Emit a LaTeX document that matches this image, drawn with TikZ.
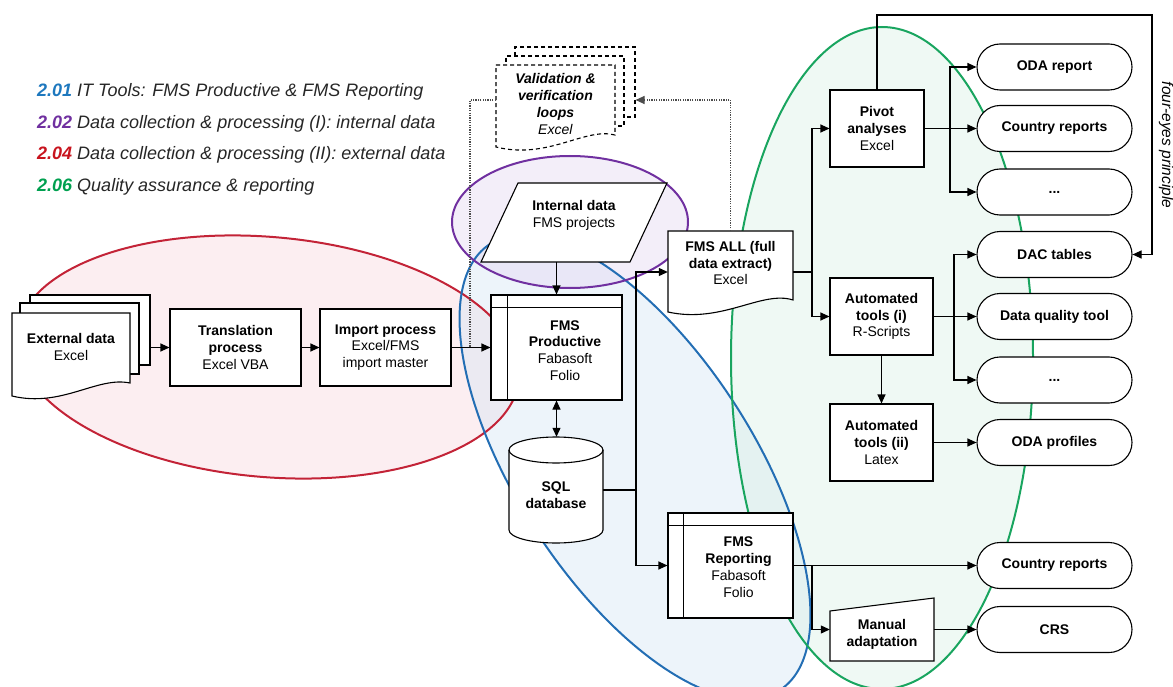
\documentclass[tikz,border=0pt]{standalone}
\usepackage{fontspec}
\setmainfont{Liberation Sans}
\usetikzlibrary{arrows.meta,shapes.misc}
\definecolor{redline}{RGB}{195,35,55}
\definecolor{purpleline}{RGB}{112,48,160}
\definecolor{blueline}{RGB}{35,110,180}
\definecolor{greenline}{RGB}{25,165,95}
\definecolor{redfill}{RGB}{248,218,224}
\definecolor{purplefill}{RGB}{228,217,242}
\definecolor{bluefill}{RGB}{214,230,245}
\definecolor{greenfill}{RGB}{220,242,230}
\definecolor{lgA}{RGB}{30,120,190}
\definecolor{lgB}{RGB}{112,48,160}
\definecolor{lgC}{RGB}{200,20,30}
\definecolor{lgD}{RGB}{0,160,80}
\newcommand\nf{\fontsize{14}{16.8}\selectfont}
\newcommand\lgf{\fontsize{18}{20}\selectfont}
\tikzset{
  box/.style={draw, fill=white, line width=1.1pt, align=center, font=\nf, inner sep=1pt},
  ghost/.style={inner sep=0pt, align=center, font=\nf},
  term/.style={draw, fill=white, line width=1.1pt, rounded rectangle, minimum width=157pt, minimum height=46pt, font=\nf\bfseries, inner sep=1pt},
  outline/.style={draw, fill=white, line width=1.1pt},
  conn/.style={line width=1.1pt},
  tip/.style={-{Triangle[length=9pt,width=8pt]}},
  arr/.style={line width=1.1pt, tip},
  dotline/.style={line width=1.1pt, black!70, dash pattern=on 1.2pt off 1.2pt},
  dashline/.style={line width=1.1pt, dash pattern=on 4pt off 3pt},
  ell/.style={line width=2pt},
  legend/.style={anchor=west, font=\lgf\itshape, inner sep=0pt, text=black!85},
}
\begin{document}
\begin{tikzpicture}[x=1pt,y=-1pt]
\useasboundingbox (0,0) rectangle (1173,687);
% ellipse fills
\fill[redfill, fill opacity=.45, rotate around={-5:(268,357)}] (268,357) ellipse [x radius=252pt, y radius=120pt];
\fill[bluefill, fill opacity=.45, rotate around={-57:(635,467)}] (635,467) ellipse [x radius=266pt, y radius=118pt];
\fill[greenfill, fill opacity=.45] (882,358) ellipse [x radius=151pt, y radius=331pt];
\fill[purplefill, fill opacity=.45] (570,222) ellipse [x radius=118pt, y radius=66pt];
% ellipse strokes
\draw[ell, redline, rotate around={-5:(268,357)}] (268,357) ellipse [x radius=252pt, y radius=120pt];
\draw[ell, blueline, rotate around={-57:(635,467)}] (635,467) ellipse [x radius=266pt, y radius=118pt];
\draw[ell, greenline] (882,358) ellipse [x radius=151pt, y radius=331pt];
\draw[ell, purpleline] (570,222) ellipse [x radius=118pt, y radius=66pt];

% legend
\node[legend] (lg1) at (37,92) {\textbf{\color{lgA}2.01} IT Tools: FMS Productive \& FMS Reporting};
\node[legend] (lg2) at (37,123.5) {\textbf{\color{lgB}2.02} Data collection \& processing (I): internal data};
\node[legend] (lg3) at (37,155) {\textbf{\color{lgC}2.04} Data collection \& processing (II): external data};
\node[legend] (lg4) at (37,186.5) {\textbf{\color{lgD}2.06} Quality assurance \& reporting};

% external data stack
\node[outline, minimum width=120pt, minimum height=70pt] (ext3) at (90,330) {};
\node[outline, minimum width=119pt, minimum height=71pt] (ext2) at (79.5,338.5) {};
\draw[outline] (12,313) -- (130,313) -- (130,383) .. controls (97,376) and (62,408) .. (12,396) -- cycle;
\node[ghost] (ext) at (71,347) {\textbf{External data}\\Excel};

\node[box, minimum width=131pt, minimum height=77pt] (trans) at (235.5,347.5) {\textbf{Translation}\\\textbf{process}\\Excel VBA};
\node[box, minimum width=131pt, minimum height=77pt] (imp) at (385.5,347.5) {\textbf{Import process}\\Excel/FMS\\import master};

% validation doc
\node[outline, dashline, minimum width=120pt, minimum height=70pt] (vb3) at (575,82) {};
\node[outline, dashline, minimum width=118pt, minimum height=70pt] (vb2) at (565,91) {};
\draw[outline, dashline] (496,65) -- (615,65) -- (615,135) .. controls (585,127) and (548,160) .. (496,147) -- cycle;
\node[ghost, minimum width=119pt, minimum height=70pt, label={[ghost, yshift=-4pt]center:{\textbf{\textit{Validation \&}}\\\textbf{\textit{verification}}\\\textbf{\textit{loops}}\\\textit{Excel}}}] (valid) at (555.5,100) {};

% internal data
\draw[outline] (518,183) -- (667,183) -- (630,262) -- (481,262) -- cycle;
\node[ghost, minimum width=149pt, minimum height=79pt, label={[ghost, yshift=7pt]center:{\textbf{Internal data}\\FMS projects}}] (intd) at (574,222.5) {};

% FMS productive
\node[box, minimum width=131pt, minimum height=105pt, label={[ghost, xshift=8.5pt, yshift=-3pt]center:{\textbf{FMS}\\\textbf{Productive}\\Fabasoft\\Folio}}] (prod) at (556.5,347.5) {};
\draw[conn] ([yshift=-13pt]prod.north west) -- ([yshift=-13pt]prod.north east);
\draw[conn] ([xshift=17pt]prod.north west) -- ([xshift=17pt]prod.south west);

% SQL cylinder
\draw[outline] (509,450) -- (509,530) arc[start angle=180, end angle=360, x radius=47pt, y radius=13pt] -- (603,450) arc[start angle=0, end angle=180, x radius=47pt, y radius=13pt] -- cycle;
\draw[conn] (509,450) arc[start angle=180, end angle=360, x radius=47pt, y radius=13pt];
\node[ghost, minimum width=94pt, minimum height=106pt, label={[ghost, yshift=-5pt]center:{\textbf{SQL}\\\textbf{database}}}] (sql) at (556,490) {};

% FMS ALL
\draw[outline] (668,231) -- (793,231) -- (793,300) .. controls (762,290) and (722,324) .. (668,312) -- cycle;
\node[ghost, minimum width=125pt, minimum height=82pt, label={[ghost, yshift=9pt]center:{\textbf{FMS ALL (full}\\\textbf{data extract)}\\Excel}}] (fmsall) at (730.5,272) {};

% FMS Reporting
\node[box, minimum width=125pt, minimum height=105pt, label={[ghost, xshift=8pt, yshift=-1.5pt]center:{\textbf{FMS}\\\textbf{Reporting}\\Fabasoft\\Folio}}] (rep) at (730.5,565.5) {};
\draw[conn] ([yshift=-13pt]rep.north west) -- ([yshift=-13pt]rep.north east);
\draw[conn] ([xshift=16pt]rep.north west) -- ([xshift=16pt]rep.south west);

% right boxes
\node[box, minimum width=94pt, minimum height=77pt] (piv) at (877,128.5) {\textbf{Pivot}\\\textbf{analyses}\\Excel};
\node[box, minimum width=103pt, minimum height=77pt] (auto1) at (881.5,316.5) {\textbf{Automated}\\\textbf{tools (i)}\\R-Scripts};
\node[box, minimum width=103pt, minimum height=77pt] (auto2) at (881.5,442.5) {\textbf{Automated}\\\textbf{tools (ii)}\\Latex};
\draw[outline] (830,611) -- (934,598) -- (934,661) -- (830,661) -- cycle;
\node[ghost, minimum width=104pt, minimum height=63pt, label={[ghost, yshift=-5pt]center:{\textbf{Manual}\\\textbf{adaptation}}}] (man) at (882,629.5) {};

% terminators
\node[term] (oda) at (1054.5,67) {ODA report};
\node[term] (cr1) at (1054.5,128.5) {Country reports};
\node[term] (dots1) at (1054.5,192) {...};
\node[term] (dac) at (1054.5,254.5) {DAC tables};
\node[term] (dq) at (1054.5,316.5) {Data quality tool};
\node[term] (dots2) at (1054.5,380) {...};
\node[term] (odap) at (1054.5,442.5) {ODA profiles};
\node[term] (cr2) at (1054.5,565.5) {Country reports};
\node[term] (crs) at (1054.5,629.5) {CRS};

\node[font=\fontsize{15.5}{18}\selectfont\itshape, rotate=-90, inner sep=0pt] (four) at (1166,145) {four-eyes principle};

% connectors
\draw[arr] (ext3.east |- trans.west) -- (trans.west);
\draw[arr] (trans.east) -- (imp.west);
\draw[arr] (imp.east) -- (prod.west);
\draw[arr] (intd.south -| prod.north) -- (prod.north);
\draw[conn, {Triangle[length=9pt,width=8pt]}-{Triangle[length=9pt,width=8pt]}] (prod.south) -- (sql.north -| prod.south);
\coordinate (bus1) at (636,490);
\draw[conn] (sql.east) -- (bus1);
\draw[arr] (bus1) |- (fmsall.west);
\draw[arr] (bus1) |- (rep.west);
\coordinate (bus2) at (812,272);
\draw[conn] (fmsall.east) -- (bus2);
\draw[arr] (bus2) |- (piv.west);
\draw[arr] (bus2) |- (auto1.west);
\coordinate (bus3) at (950,128.5);
\draw[arr] (piv.east) -- (cr1.west);
\draw[arr] (bus3) |- (oda.west);
\draw[arr] (bus3) |- (dots1.west);
\coordinate (bus4) at (954,316.5);
\draw[arr] (auto1.east) -- (dq.west);
\draw[arr] (bus4) |- (dac.west);
\draw[arr] (bus4) |- (dots2.west);
\draw[arr] (auto1.south) -- (auto2.north);
\draw[arr] (auto2.east) -- (odap.west);
\draw[arr] (rep.east) -- (cr2.west);
\coordinate (bus5) at (812,565.5);
\draw[arr] (bus5) |- (man.west);
\draw[arr] (man.east) -- (crs.west);
\coordinate (fe) at (1152,15);
\draw[arr] (piv.north) |- (fe) |- (dac.east);
\coordinate (vjoin) at (470,347.5);
\draw[dotline] (valid.west) -| (vjoin);
\draw[dotline, tip] (fmsall.north) |- (vb3.east |- valid.east);
\end{tikzpicture}
\end{document}
